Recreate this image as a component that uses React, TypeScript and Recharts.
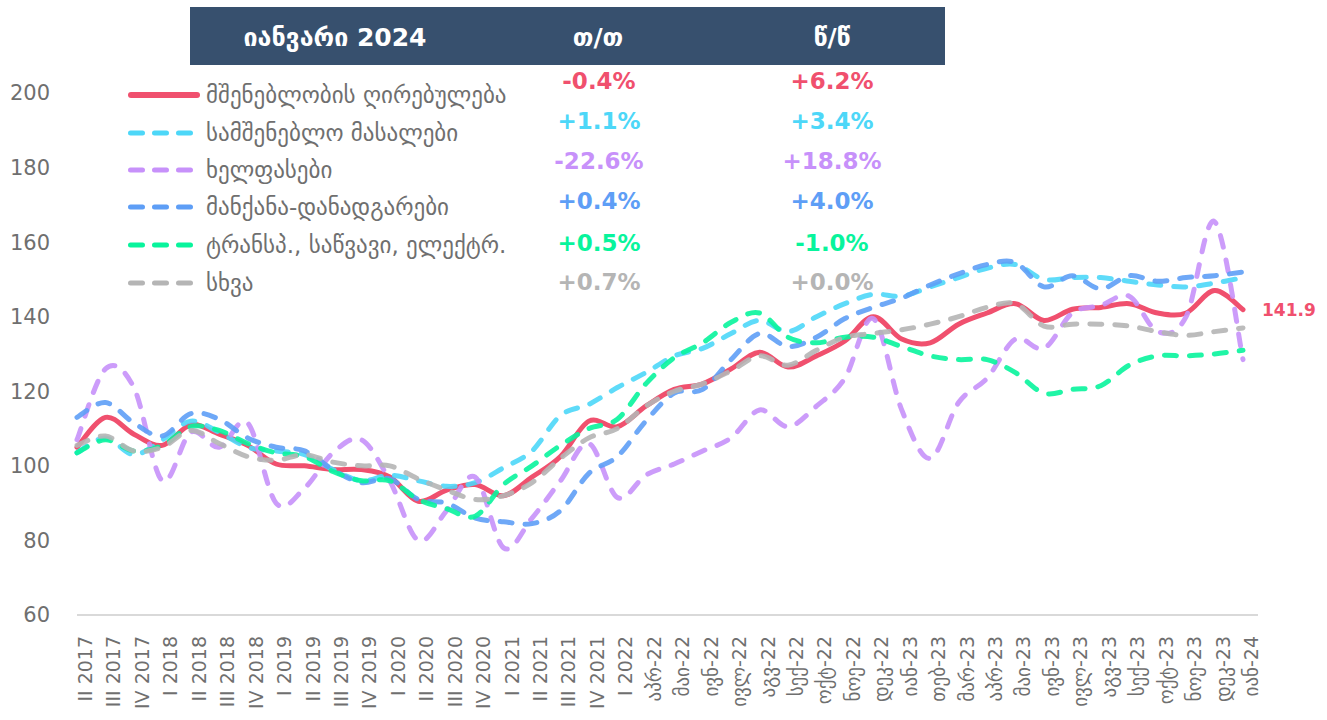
import { LabelList, Line, LineChart, XAxis, YAxis } from 'recharts';

const categories = [
  'II 2017', 'III 2017', 'IV 2017', 'I 2018', 'II 2018', 'III 2018', 'IV 2018',
  'I 2019', 'II 2019', 'III 2019', 'IV 2019', 'I 2020', 'II 2020', 'III 2020',
  'IV 2020', 'I 2021', 'II 2021', 'III 2021', 'IV 2021', 'I 2022',
  'აპრ-22', 'მაი-22', 'ივნ-22', 'ივლ-22', 'აგვ-22', 'სექ-22', 'ოქტ-22', 'ნოე-22', 'დეკ-22',
  'იან-23', 'თებ-23', 'მარ-23', 'აპრ-23', 'მაი-23', 'ივნ-23', 'ივლ-23', 'აგვ-23', 'სექ-23',
  'ოქტ-23', 'ნოე-23', 'დეკ-23', 'იან-24',
];

// construction cost index and its components
const construction = [
  105, 113, 108.5, 105.5, 111, 108.5, 105.5, 100.5, 100, 99, 99, 97, 90.5, 93.5,
  95, 92, 97, 102.5, 112, 110.5, 116, 120.5, 122, 126, 130.5, 126.5, 129.5, 133.5,
  140, 134, 133, 138, 141, 143.5, 139, 142, 142.5, 143.5, 141, 141, 147, 141.9,
];
const materials = [
  103.5, 107.5, 103, 107, 112, 109, 105, 104, 103, 99, 96, 97.5, 96, 94.5,
  95.5, 99.5, 104, 113.5, 116.5, 121, 125, 129.5, 131.5, 135.5, 139, 136, 140, 143.5,
  146, 145.5, 148, 150.5, 153, 154, 150, 150.5, 150.5, 149.5, 148.5, 148, 149, 150.5,
];
const wages = [
  107, 126, 121, 96, 109, 105, 111.5, 90, 94, 103.5, 107, 96, 80, 88,
  97, 78, 86, 96, 106, 91.5, 97.5, 100.5, 104, 107.5, 115, 110.5, 116, 123.5,
  139.5, 115, 102, 117, 123.5, 134, 131.5, 141, 143, 145.5, 136, 140, 165.5, 128.5,
];
const machinery = [
  113, 117, 111.5, 108, 114, 112.5, 107.5, 105, 104, 99, 95.5, 96.5, 91, 90,
  86, 85, 84.5, 88, 98, 102.5, 112, 119.5, 120.5, 128.5, 135.5, 132, 134.5, 139.5,
  142.5, 145, 148.5, 151.5, 154, 154.5, 148, 151, 147.5, 151, 149.5, 150.5, 151, 152,
];
const transport = [
  103.5, 107, 104, 105.5, 110.5, 109.5, 106, 103.5, 102.5, 98.5, 96, 96, 91, 88.5,
  86.5, 95, 100, 105.5, 110, 112.5, 122, 129, 133, 138.5, 141, 134.5, 133, 134.5,
  134.5, 132, 129.5, 128.5, 128.5, 125, 119.5, 120.5, 121.5, 127, 129.5, 129.5, 130, 131,
];
const other = [
  105.5, 108, 104, 105, 109.5, 106, 102.5, 101.5, 103, 101, 100, 100, 96.5, 93.5,
  91, 92, 95.5, 102, 107.5, 110, 116, 120, 122, 125.5, 129.5, 127, 131, 134.5,
  135.5, 136.5, 138, 140, 142.5, 143.5, 137.5, 138, 138, 137.5, 136, 135, 136, 137,
];

const seriesNames = [
  'მშენებლობის ღირებულება',
  'სამშენებლო მასალები',
  'ხელფასები',
  'მანქანა-დანადგარები',
  'ტრანსპ., საწვავი, ელექტრ.',
  'სხვა',
];
const momChanges = ['-0.4%', '+1.1%', '-22.6%', '+0.4%', '+0.5%', '+0.7%'];
const yoyChanges = ['+6.2%', '+3.4%', '+18.8%', '+4.0%', '-1.0%', '+0.0%'];
const headerLabels = ['იანვარი 2024', 'თ/თ', 'წ/წ'];
const yTicks = [60, 80, 100, 120, 140, 160, 180, 200];

const FONT = '"DejaVu Sans", sans-serif';
const TEXT = '#6f6f6f';

const series = [
  { key: 'construction', color: '#f0506e', dashed: false },
  { key: 'materials', color: '#4dd7f8', dashed: true },
  { key: 'wages', color: '#c791fa', dashed: true },
  { key: 'machinery', color: '#5e9ef6', dashed: true },
  { key: 'transport', color: '#08f49c', dashed: true },
  { key: 'other', color: '#b5b5b5', dashed: true },
];

const data = categories.map((c, i) => ({
  cat: c,
  construction: construction[i],
  materials: materials[i],
  wages: wages[i],
  machinery: machinery[i],
  transport: transport[i],
  other: other[i],
}));

// Excel-style smoothing: cubic bezier through every point, tangents from neighbours.
const excelCurve = (ctx: any) => {
  let pts: number[][] = [];
  return {
    areaStart() {},
    areaEnd() {},
    lineStart() {
      pts = [];
    },
    point(x: number, y: number) {
      pts.push([+x, +y]);
    },
    lineEnd() {
      const n = pts.length;
      if (!n) return;
      ctx.moveTo(pts[0][0], pts[0][1]);
      for (let i = 0; i < n - 1; i++) {
        const p0 = pts[Math.max(i - 1, 0)];
        const p1 = pts[i];
        const p2 = pts[i + 1];
        const p3 = pts[Math.min(i + 2, n - 1)];
        ctx.bezierCurveTo(
          p1[0] + (p2[0] - p0[0]) / 6,
          p1[1] + (p2[1] - p0[1]) / 6,
          p2[0] - (p3[0] - p1[0]) / 6,
          p2[1] - (p3[1] - p1[1]) / 6,
          p2[0],
          p2[1],
        );
      }
    },
  };
};

function CategoryTick({ x, y, payload }: any) {
  return (
    <g transform={`translate(${x + 15},${y + 21})`}>
      <text transform="rotate(-90)" textAnchor="end" fill={TEXT} fontSize={19} fontFamily={FONT}>
        {payload.value}
      </text>
    </g>
  );
}

function EndLabel(props: any) {
  const { x, y, index, value } = props;
  if (index !== categories.length - 1) return null;
  return (
    <text x={x + 19} y={y} dy="0.36em" fill="#f0506e" fontSize={17} fontWeight="bold" fontFamily={FONT}>
      {value}
    </text>
  );
}

function Overlay() {
  const legendRows = [95, 133, 170, 207, 245, 283];
  const pctRows = [81, 121, 161, 201, 243, 282];
  return (
    <svg
      width={1327}
      height={720}
      style={{ position: 'absolute', left: 0, top: 0, pointerEvents: 'none' }}
    >
      <rect x={190} y={7} width={755} height={58} fill="#37506e" />
      {headerLabels.map((t, i) => (
        <text
          key={t}
          x={[335, 598, 832][i]}
          y={37}
          textAnchor="middle"
          dominantBaseline="central"
          fill="#ffffff"
          fontSize={25}
          fontWeight="bold"
          fontFamily={FONT}
        >
          {t}
        </text>
      ))}
      {seriesNames.map((name, i) => {
        const s = series[i];
        const cy = legendRows[i];
        return (
          <g key={name}>
            {s.dashed ? (
              <line
                x1={130.5}
                x2={190.5}
                y1={cy}
                y2={cy}
                stroke={s.color}
                strokeWidth={5}
                strokeLinecap="round"
                strokeDasharray="12 12"
              />
            ) : (
              <line x1={131} x2={197} y1={cy} y2={cy} stroke={s.color} strokeWidth={6} strokeLinecap="round" />
            )}
            <text x={206} y={cy} dominantBaseline="central" fill={TEXT} fontSize={23} fontFamily={FONT}>
              {name}
            </text>
            <text
              x={599}
              y={pctRows[i]}
              textAnchor="middle"
              dominantBaseline="central"
              fill={s.color}
              fontSize={23}
              fontWeight="bold"
              fontFamily={FONT}
            >
              {momChanges[i]}
            </text>
            <text
              x={832}
              y={pctRows[i]}
              textAnchor="middle"
              dominantBaseline="central"
              fill={s.color}
              fontSize={23}
              fontWeight="bold"
              fontFamily={FONT}
            >
              {yoyChanges[i]}
            </text>
          </g>
        );
      })}
    </svg>
  );
}

export default function App() {
  return (
    <div style={{ position: 'absolute', left: 0, top: 0, width: 1327, height: 720, background: '#fff' }}>
      <LineChart width={1327} height={720} data={data} margin={{ top: 93, right: 69, bottom: 5, left: 0 }}>
        <XAxis
          dataKey="cat"
          interval={0}
          height={100}
          padding={{ left: 0, right: 15 }}
          tickLine={false}
          tickSize={0}
          tickMargin={0}
          axisLine={{ stroke: '#d9d9d9', strokeWidth: 2 }}
          tick={<CategoryTick />}
        />
        <YAxis
          width={77}
          domain={[60, 200]}
          ticks={yTicks}
          interval={0}
          tickLine={false}
          tickSize={0}
          tickMargin={27}
          axisLine={false}
          tick={{ fill: TEXT, fontSize: 21, fontFamily: FONT }}
        />
        {series.map((s) => (
          <Line
            key={s.key}
            dataKey={s.key}
            type={excelCurve as any}
            stroke={s.color}
            strokeWidth={5}
            strokeOpacity={s.dashed ? 0.9 : 1}
            strokeLinecap="round"
            strokeDasharray={s.dashed ? '12 13' : undefined}
            dot={false}
            activeDot={false}
            isAnimationActive={false}
          >
            {s.key === 'construction' && <LabelList dataKey="construction" content={<EndLabel />} />}
          </Line>
        ))}
      </LineChart>
      <Overlay />
    </div>
  );
}
